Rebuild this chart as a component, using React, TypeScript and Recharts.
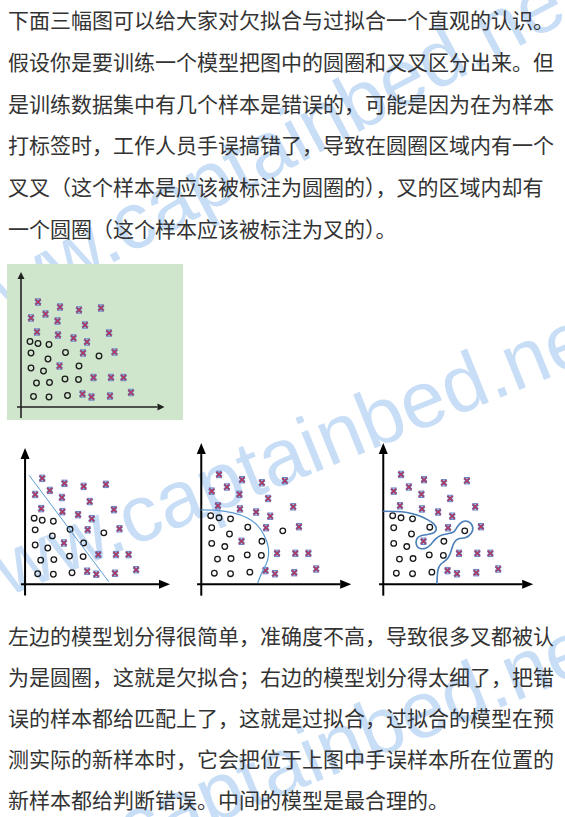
import { ReferenceLine, Scatter, ScatterChart, XAxis, YAxis } from "recharts";

type Pair = [number, number];

// sample positions (units ~ px from the axis origin of the first plot)
const crosses: Pair[] = [
  [17, 105], [39, 100], [58, 97], [80, 99], [10, 89], [24.5, 93], [36.5, 86], [64, 82],
  [16, 75], [37, 72], [52.5, 69], [66, 65], [88, 74], [62, 54], [93.5, 55], [38.5, 41],
  [72.5, 29.5], [90, 29.5], [102.5, 29.5], [61.5, 13], [70.5, 10], [89, 11], [110, 14.5],
];
const circles: Pair[] = [
  [9, 65.5], [17, 63.5], [28, 62.5], [10, 54], [27, 48], [44.5, 54.5], [78, 51], [10, 39],
  [22.5, 36], [58, 41], [15.5, 24], [28.5, 24.5], [44, 28], [57.5, 27.5], [12.5, 10.5],
  [28, 10], [46.5, 11.5],
];

// decision boundaries
const underfitLine: Pair[] = [[4, 108], [83, 2.5]];
const goodfitCurve: Pair[] = [
  [0, 71], [14.4, 70.6], [30.4, 68.3], [43.3, 63.8], [53.5, 56.5], [60, 47], [64, 36],
  [63.5, 23], [58.5, 12], [54, 1],
];
const overfitCurve: Pair[] = [
  [0, 69.8], [11.2, 69.5], [22.5, 68.6], [33.7, 65.7], [42.3, 61.8], [48.1, 58], [50.7, 53.5],
  [49, 49.6], [43.3, 47.7], [36, 46.4], [32.1, 43.3], [31.7, 37.8], [35.3, 34.2], [41.1, 34.6],
  [45.9, 38.5], [50.7, 43.8], [56.2, 47.1], [62.5, 48.4], [68, 50.6], [71.2, 55.4], [75.4, 59.5],
  [81, 60], [85.5, 55], [84, 48.5], [78.5, 44.5], [72, 43.5], [68, 40], [65.8, 34.6], [64, 29],
  [60.5, 23.5], [55, 19], [52.3, 13.1], [51.6, 5.8], [51.3, 0.3],
];

const topLines = [
  "下面三幅图可以给大家对欠拟合与过拟合一个直观的认识。",
  "假设你是要训练一个模型把图中的圆圈和叉叉区分出来。但",
  "是训练数据集中有几个样本是错误的，可能是因为在为样本",
  "打标签时，工作人员手误搞错了，导致在圆圈区域内有一个",
  "叉叉（这个样本是应该被标注为圆圈的），叉的区域内却有",
  "一个圆圈（这个样本应该被标注为叉的）。",
];
const bottomLines = [
  "左边的模型划分得很简单，准确度不高，导致很多叉都被认",
  "为是圆圈，这就是欠拟合；右边的模型划分得太细了，把错",
  "误的样本都给匹配上了，这就是过拟合，过拟合的模型在预",
  "测实际的新样本时，它会把位于上图中手误样本所在位置的",
  "新样本都给判断错误。中间的模型是最合理的。",
];

const watermark = "www.captainbed.net";
// x, y, angle of each watermark copy
const marks = [
  [-42, 345, -28],
  [-46.5, 618.6, -22],
  [-46.5, 928.6, -22],
];
const xDomain: Pair = [-6, 146];
const yDomain: Pair = [-12, 137];

const toPoints = (list: Pair[]) => list.map(([x, y]) => ({ x, y }));

function CrossMark(props: any) {
  const { cx, cy } = props;
  const h = 2.6;
  const d = `M${cx - h},${cy - h}L${cx + h},${cy + h}M${cx + h},${cy - h}L${cx - h},${cy + h}`;
  return (
    <g>
      <path d={d} stroke="#5b6fb4" strokeWidth={2.6} fill="none" />
      <path d={`M${cx - h - 0.4},${cy - h - 0.6}H${cx + h + 0.4}M${cx - h - 0.4},${cy + h + 0.6}H${cx + h + 0.4}`} stroke="#6a84c4" strokeWidth={1} />
      <path d={d} stroke="#c9304f" strokeWidth={1.1} fill="none" />
    </g>
  );
}

function RingMark(props: any) {
  const { cx, cy } = props;
  return <circle cx={cx} cy={cy} r={2.8} fill="none" stroke="#1a1a1a" strokeWidth={1.3} />;
}

const arrowShape = (len: number, half: number, width: number, color: string) => (props: any) => {
  const { x1, y1, x2, y2 } = props;
  const d = Math.hypot(x2 - x1, y2 - y1) || 1;
  const ux = (x2 - x1) / d;
  const uy = (y2 - y1) / d;
  const bx = x2 - ux * len;
  const by = y2 - uy * len;
  return (
    <g>
      <line x1={x1} y1={y1} x2={bx} y2={by} stroke={color} strokeWidth={width} />
      <polygon
        points={`${x2},${y2} ${bx - uy * half},${by + ux * half} ${bx + uy * half},${by - ux * half}`}
        fill={color}
      />
    </g>
  );
};

type PlotProps = {
  ox: number;
  oy: number;
  scale: number;
  arrowLen: number;
  arrowHalf: number;
  axisWidth: number;
  axisColor: string;
  boundary?: Pair[];
  curveType?: any;
  lineColor?: string;
  lineWidth?: number;
};

function Plot({ ox, oy, scale, arrowLen, arrowHalf, axisWidth, axisColor, boundary, curveType, lineColor, lineWidth }: PlotProps) {
  const pad = 8;
  const width = (xDomain[1] - xDomain[0]) * scale + pad * 2;
  const height = (yDomain[1] - yDomain[0]) * scale + pad * 2;
  const left = ox + xDomain[0] * scale - pad;
  const top = oy - yDomain[1] * scale - pad;
  const arrow = arrowShape(arrowLen, arrowHalf, axisWidth, axisColor);
  return (
    <div style={{ position: "absolute", left, top }}>
      <ScatterChart width={width} height={height} margin={{ top: pad, right: pad, bottom: pad, left: pad }}>
        <XAxis type="number" dataKey="x" domain={xDomain} allowDataOverflow hide />
        <YAxis type="number" dataKey="y" domain={yDomain} allowDataOverflow hide />
        <ReferenceLine segment={[{ x: -4, y: 0 }, { x: 143.5, y: 0 }]} shape={arrow} ifOverflow="visible" />
        <ReferenceLine segment={[{ x: 0, y: -11 }, { x: 0, y: 135 }]} shape={arrow} ifOverflow="visible" />
        <Scatter data={toPoints(circles)} shape={RingMark} isAnimationActive={false} />
        <Scatter data={toPoints(crosses)} shape={CrossMark} isAnimationActive={false} />
        {boundary && (
          <Scatter
            data={toPoints(boundary)}
            line={{ stroke: lineColor, strokeWidth: lineWidth }}
            lineJointType={curveType}
            shape={() => <g />}
            isAnimationActive={false}
          />
        )}
      </ScatterChart>
    </div>
  );
}

export default function App() {
  const textStyle = {
    position: "absolute" as const,
    left: 8,
    fontSize: 21,
    color: "#333",
    whiteSpace: "nowrap" as const,
  };
  return (
    <div
      style={{
        position: "absolute",
        left: 0,
        top: 0,
        width: 565,
        height: 817,
        overflow: "hidden",
        background: "#fff",
        fontFamily: '"Noto Sans CJK SC", "Noto Sans", sans-serif',
      }}
    >
      <svg width={565} height={817} style={{ position: "absolute", left: 0, top: 0 }}>
        {marks.map(([x, y, a]) => (
          <text
            key={y}
            x={x}
            y={y}
            transform={`rotate(${a} ${x} ${y})`}
            fontFamily='"Liberation Sans", Arial, sans-serif'
            fontSize={80}
            fill="#4a8fe0"
            fillOpacity={0.3}
          >
            {watermark}
          </text>
        ))}
      </svg>

      <div style={{ ...textStyle, top: -1, lineHeight: "41.8px" }}>
        {topLines.map((line) => (
          <div key={line}>{line}</div>
        ))}
      </div>

      <div style={{ position: "absolute", left: 7, top: 264, width: 176, height: 156, background: "#cfe6cc" }} />
      <Plot ox={20.7} oy={407} scale={1} arrowLen={7} arrowHalf={3.5} axisWidth={1.6} axisColor="#222" />
      <Plot
        ox={25}
        oy={584.3}
        scale={1.01}
        arrowLen={11}
        arrowHalf={4.5}
        axisWidth={2}
        axisColor="#000"
        boundary={underfitLine}
        curveType="linear"
        lineColor="#5b9bd5"
        lineWidth={1}
      />
      <Plot
        ox={201.7}
        oy={583.7}
        scale={1.045}
        arrowLen={11}
        arrowHalf={4.5}
        axisWidth={2}
        axisColor="#000"
        boundary={goodfitCurve}
        curveType="natural"
        lineColor="#5b9bd5"
        lineWidth={1.2}
      />
      <Plot
        ox={383.3}
        oy={584.3}
        scale={1.045}
        arrowLen={11}
        arrowHalf={4.5}
        axisWidth={2}
        axisColor="#000"
        boundary={overfitCurve}
        curveType="natural"
        lineColor="#4a7fb8"
        lineWidth={1.6}
      />

      <div style={{ ...textStyle, top: 615.4, lineHeight: "40.8px" }}>
        {bottomLines.map((line) => (
          <div key={line}>{line}</div>
        ))}
      </div>
    </div>
  );
}
